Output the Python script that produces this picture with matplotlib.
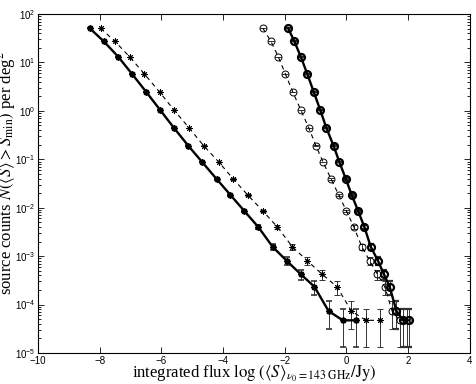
# plot of cumulative source counts N(>S) vs integrated flux (four runs)
# ------------------------- Imports ----------------------------
import matplotlib
matplotlib.use('Agg')
import matplotlib.pyplot as plt
from matplotlib.ticker import FuncFormatter, LogLocator, NullFormatter
import numpy as np

# ------------------------- Data -------------------------------
# log10 of integrated flux for each of the four runs
logS_star_solid = [-8.32, -7.87, -7.40, -6.95, -6.49, -6.04, -5.59, -5.13, -4.68, -4.21,
                   -3.76, -3.31, -2.86, -2.39, -1.94, -1.49, -1.04, -0.58, -0.12, 0.32]
logS_star_dash = [-7.97, -7.51, -7.03, -6.55, -6.06, -5.59, -5.10, -4.63, -4.14, -3.67,
                  -3.20, -2.71, -2.24, -1.75, -1.27, -0.80, -0.31, 0.16, 0.63, 1.10]
logS_circ_solid = [-1.89, -1.69, -1.48, -1.27, -1.06, -0.85, -0.65, -0.42, -0.23, -0.02,
                   0.17, 0.38, 0.58, 0.79, 1.02, 1.21, 1.40, 1.62, 1.83, 2.03]
logS_circ_dash = [-2.71, -2.45, -2.21, -1.98, -1.74, -1.48, -1.22, -0.99, -0.76, -0.50,
                  -0.25, 0.00, 0.24, 0.50, 0.75, 1.00, 1.24, 1.48, 1.72, 1.97]
# counts per deg^2 (same levels for every run) and their errors
counts = [50.7, 27.3, 13.1, 5.77, 2.45, 1.04, 0.443, 0.191, 0.0879, 0.0392,
          0.0183, 0.00855, 0.0040, 0.00155, 8.05e-4, 4.28e-4, 2.34e-4, 7.36e-5, 4.73e-5, 4.73e-5]
counts_err = [0.035, 0.026, 0.018, 0.012, 0.0078, 0.005, 0.0033, 0.0022, 0.0015, 0.001,
              6.7e-4, 4.6e-4, 3.1e-4, 2.0e-4, 1.4e-4, 1.0e-4, 7.6e-5, 4.3e-5, 3.4e-5, 3.4e-5]

xticks = [-10, -8, -6, -4, -2, 0, 2, 4]

# ------------------------- Plot -------------------------------
plt.rcParams['mathtext.fontset'] = 'stix'
plt.rcParams['font.family'] = 'Liberation Sans'

fig = plt.figure(figsize=(4.77, 3.84), dpi=100)
ax = fig.add_axes([0.0797, 0.0807, 0.9053, 0.8828])

asterisk = (8, 2, 0)
common = dict(color='black', ecolor='0.2', elinewidth=0.7, capsize=2.2, capthick=0.7)

ax.errorbar(logS_star_solid, counts, yerr=counts_err, fmt='-', marker=asterisk, ms=4.5,
            mew=1.2, lw=1.7, **common)
ax.errorbar(logS_star_dash, counts, yerr=counts_err, fmt='--', marker=asterisk, ms=4.5,
            mew=0.7, lw=0.8, dashes=(4, 3.5), **common)
ax.errorbar(logS_circ_solid, counts, yerr=counts_err, fmt='-', marker='o', ms=5,
            mfc='none', mew=1.6, lw=1.7, **common)
ax.errorbar(logS_circ_dash, counts, yerr=counts_err, fmt='--', marker='o', ms=5,
            mfc='none', mew=0.7, lw=0.8, dashes=(4, 3.5), **common)

ax.set_yscale('log')
ax.set_xlim(-10, 4)
ax.set_ylim(1e-5, 1e2)
ax.set_xticks(xticks)
ax.set_xticklabels([('\u2212%d' % -t) if t < 0 else '%d' % t for t in xticks], fontsize=7)
ax.yaxis.set_major_locator(LogLocator(base=10, numticks=10))
ax.yaxis.set_minor_locator(LogLocator(base=10, subs=np.arange(2, 10), numticks=10))
ax.yaxis.set_major_formatter(FuncFormatter(lambda v, p: r'$\mathregular{10^{%d}}$' % round(np.log10(v))))
ax.yaxis.set_minor_formatter(NullFormatter())
ax.tick_params(which='both', direction='in', top=True, right=True, width=0.6)
ax.tick_params(which='major', length=4, labelsize=7, pad=2)
ax.tick_params(which='minor', length=2)
for sp in ax.spines.values():
    sp.set_linewidth(0.8)

ax.set_xlabel(r'integrated flux $\log\,(\langle S\rangle_{\nu_0=143\ \mathrm{GHz}}/\mathrm{Jy})$',
              fontsize=12, family='Liberation Serif')
ax.xaxis.set_label_coords(0.5, -0.03)
ax.set_ylabel(r'source counts $N(\langle S\rangle > S_{\min})$ per deg$^2$',
              fontsize=12, family='Liberation Serif')
ax.yaxis.set_label_coords(-0.046, 0.531)

plt.savefig('out.png', dpi=100)
plt.close()
